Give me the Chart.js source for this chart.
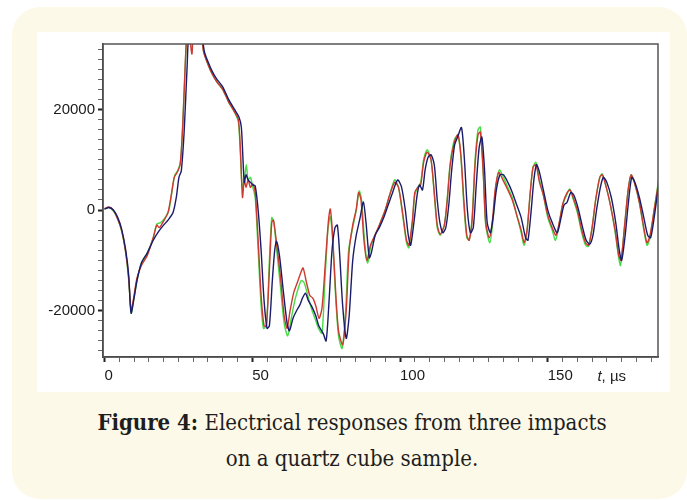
<!DOCTYPE html>
<html>
<head>
<meta charset="utf-8">
<script src="https://cdn.jsdelivr.net/npm/chart.js@4"></script>
<style>
  html, body { margin: 0; padding: 0; background: #fff; }
  body { width: 687px; height: 500px; position: relative; overflow: hidden; }
  .card { position: absolute; left: 12px; top: 7px; width: 675px; height: 492px; background: #fdf9e8; border-radius: 28px; }
  .plot { position: absolute; left: 37px; top: 32px; width: 633px; height: 360px; background: #fff; }
  .caption {
    position: absolute; left: 12px; width: 680px; top: 404px;
    text-align: center; font-family: 'DejaVu Serif Condensed', 'DejaVu Serif', serif;
    font-size: 22px; line-height: 36px; color: #1e1e1e;
  }
  .caption b { font-weight: bold; }
</style>
</head>
<body>
<div class="card"></div>
<div class="plot"><canvas id="chart" width="633" height="360"></canvas></div>
<div class="caption"><b>Figure 4:</b> Electrical responses from three impacts<br>on a quartz cube sample.</div>

<script>
// time axis in microseconds, values in raw ADC units
const majorX = [0, 50, 100, 150];
const majorY = [-20000, 0, 20000];

// small tick marks: every 5 us and every 2000 units
const xTicks = [];
for (let v = 0; v <= 185; v += 5) xTicks.push(v);
const yTicks = [];
for (let v = -28000; v <= 32000; v += 2000) yTicks.push(v);

// impact 1 (dark blue trace)
const t1 = [0, 1.5, 3, 4.5, 5.8, 7.2, 8.2, 9.0, 10.0, 11.0, 12.5, 14.5, 16.5, 18.4, 20, 21.5, 23.2, 24.3, 25.2, 26.0,
  27.0, 28.0, 28.6, 30.5, 32.5, 33.8, 35, 36.5, 38, 40, 42, 44, 45.5, 46.3, 46.8, 47.3, 47.9, 48.6, 49.4, 50.2,
  51.0, 52.0, 53.0, 54.0, 55.0, 55.8, 56.8, 57.6, 58.2, 59.2, 60.5, 61.8, 62.6, 63.8, 65, 66, 67, 68.0, 69, 70,
  71.5, 72.5, 74.0, 75.0, 76.0, 77.0, 78.0, 78.8, 79.6, 80.6, 81.8, 82.8, 84.0, 85.2, 86.5, 87.6, 88.5, 89.6, 90.3, 91.6,
  93, 94.5, 96.0, 97.5, 99.2, 100.5, 101.8, 102.8, 103.6, 104.8, 105.8, 106.6, 107.6, 108.5, 109.5, 110.5, 111.6, 112.6, 113.5, 114.5,
  115.5, 116.5, 117.5, 118.5, 119.5, 120.8, 121.8, 122.8, 123.8, 124.8, 125.8, 126.8, 127.7, 128.6, 129.5, 130.6, 131.6, 132.6, 133.8, 135.0,
  136.5, 138, 139.5, 141, 142.5, 143.3, 144.4, 145.3, 146.2, 147.2, 148.5, 150, 151.5, 153.2, 154.5, 155.5, 156.5, 157.8, 158.8, 160.2,
  161.8, 163, 164.2, 165.3, 166.5, 167.8, 168.8, 170.0, 171.5, 173, 174.2, 175.0, 176.2, 177.2, 178.4, 179.5, 181, 182.5, 183.8, 184.8,
  186, 187.5];
const v1 = [200, 500, 0, -1500, -3800, -8000, -13000, -20500, -17500, -14000, -10500, -8500, -6000, -4200, -3000, -2000, -500, 2500, 6500, 7800,
  16000, 29000, 35000, 37000, 36000, 31500, 29500, 27500, 26000, 24500, 22000, 20000, 18500, 16500, 11000, 5500, 7000, 6000, 5500, 5000,
  4800, 0, -8000, -18000, -23500, -23000, -14000, -8000, -6200, -9000, -16000, -22500, -24000, -21500, -20000, -19000, -17500, -16500, -18000, -19000,
  -21000, -23000, -24500, -26000, -18000, -8000, -3500, -3000, -9000, -19000, -25500, -21000, -10000, -5000, -1500, 1600, -2500, -9500, -8500, -5000,
  -3500, -1500, 1000, 3500, 6000, 4600, 0, -5000, -7000, -2000, 3000, 5000, 4000, 8000, 10500, 11000, 9000, 2000, -2500, -4500,
  -3500, 1000, 8000, 13000, 14500, 16400, 10000, 0, -4500, -3500, 5000, 12500, 14500, 8000, -2500, -4500, -1000, 4000, 7000, 7000,
  5500, 3500, 1000, -1500, -5500, -6000, 0, 6000, 9000, 7500, 4000, 0, -2500, -4500, -1500, 1000, 1500, 3500, 3000, 500,
  -3500, -6000, -6800, -5000, 0, 4500, 6500, 5500, 2500, -2500, -8000, -10000, -5000, 1000, 6500, 5500, 2500, -1500, -5000, -5500,
  -1500, 5000];

// impact 2 (red trace)
const t2 = [0, 1.5, 3, 4.5, 5.8, 7.2, 8.2, 9.0, 10, 11, 12.5, 14.5, 16.5, 17.7, 18.6, 20, 21.5, 22.6, 23.6, 24.6,
  25.6, 26.5, 27.4, 28.0, 28.8, 29.6, 30.3, 32.5, 33.5, 35, 36.5, 38, 40, 42, 44, 45.3, 46.0, 46.7, 47.3, 47.9,
  48.6, 49.4, 50.2, 51.0, 52.0, 53.0, 54.0, 54.8, 55.8, 56.6, 57.2, 58.2, 59.5, 60.8, 61.8, 62.8, 64, 65.2, 66.4, 67.2,
  68.2, 69.5, 70.5, 71.5, 72.6, 73.6, 74.8, 75.8, 76.4, 77.2, 78.2, 79.2, 80.6, 81.8, 82.8, 84, 85.2, 86.0, 86.8, 87.8,
  88.8, 90, 91.5, 93, 95, 96.5, 98.2, 99.5, 101, 102.2, 103.0, 104.2, 105.0, 106.0, 107.0, 108.0, 109.2, 110.5, 111.6, 112.6,
  113.6, 115.0, 116.0, 117.0, 118.4, 119.6, 120.6, 121.6, 122.6, 123.4, 124.4, 125.4, 126.4, 127.2, 128.2, 129.0, 130.2, 131.2, 132.2, 133.4,
  134.8, 136.5, 138, 139.5, 141, 142.0, 143.0, 144.0, 145.0, 146.0, 147.2, 148.5, 150, 151.5, 152.8, 154.2, 155.2, 156.6, 157.6, 158.6,
  160, 161.5, 162.8, 163.8, 165, 166.2, 167.6, 168.5, 169.8, 171.2, 172.8, 174.0, 174.8, 176.0, 177.2, 178.2, 179.3, 181, 182.5, 183.6,
  184.6, 186, 187.5];
const v2 = [300, 600, 0, -1800, -4000, -8500, -13500, -20000, -17000, -13500, -11000, -9000, -5500, -3000, -3500, -2200, -500, 3000, 6500, 7500,
  9000, 17000, 30000, 36000, 34500, 31000, 36000, 36000, 31500, 29000, 27000, 25500, 24000, 21500, 19500, 18000, 12000, 2500, 6000, 4500,
  6000, 4500, 5200, 3500, -6000, -17000, -23000, -23000, -12000, -2500, -2000, -6500, -13000, -21000, -23500, -20000, -16500, -14500, -12500, -11500,
  -14000, -17000, -17500, -19000, -21500, -19500, -10000, -2000, 200, -5000, -16000, -24000, -26800, -20000, -8000, -3000, 200, 3500, 2000, -6000,
  -10000, -7000, -5000, -3000, 0, 3000, 5500, 4500, -1000, -6000, -7000, -2000, 3500, 4500, 5000, 9500, 11500, 10000, 3500, -3000,
  -4800, -3000, 2000, 9000, 13500, 15000, 11000, 2000, -5000, -6000, -2000, 9000, 15000, 15500, 7000, -2500, -5500, -2500, 4000, 7500,
  6000, 4000, 2000, -1000, -4000, -6500, -4000, 3000, 8500, 9000, 5500, 3000, -1000, -3500, -5000, -1500, 1500, 3500, 4000, 2500,
  0, -4000, -6500, -7000, -3500, 2000, 6500, 7000, 4500, 1000, -4000, -9000, -10000, -3000, 4000, 7000, 5500, 1500, -3500, -6500,
  -5000, 0, 5500];

// impact 3 (green trace)
const t3 = [0, 1.5, 3, 4.5, 5.8, 7.2, 8.2, 9.1, 10, 11, 12.5, 14.5, 16.5, 17.7, 19, 20.5, 21.8, 22.8, 23.8, 24.8,
  25.8, 26.7, 27.6, 28.3, 30.5, 32.5, 33.6, 35, 36.5, 38, 40, 42, 44, 45.3, 46.0, 46.6, 47.3, 48.0, 48.6, 49.4,
  50.2, 51.0, 52.0, 53.0, 53.8, 54.8, 55.8, 56.6, 57.3, 58.2, 59.5, 60.8, 62.0, 63.2, 64.4, 65.6, 66.6, 67.6, 68.8, 70,
  71.2, 72.4, 73.6, 74.6, 75.6, 76.4, 77.2, 78.2, 79.2, 80.4, 81.6, 82.6, 84, 85.2, 86.2, 87.0, 88.0, 89.0, 90.2, 91.6,
  93, 95, 96.5, 98.2, 99.5, 101, 102.2, 103.0, 104.2, 105.0, 106.0, 107.0, 108.0, 109.2, 110.5, 111.6, 112.6, 113.6, 115.0, 116.0,
  117.0, 118.4, 119.6, 120.6, 121.6, 122.6, 123.4, 124.4, 125.4, 126.4, 127.2, 128.2, 129.0, 130.4, 131.4, 132.4, 133.6, 135.0, 136.5, 138,
  139.5, 141, 142.0, 143.0, 144.0, 145.0, 146.0, 147.2, 148.5, 150, 151.5, 152.6, 153.8, 155.0, 156.4, 157.4, 158.4, 160, 161.5, 162.8,
  163.8, 165, 166.2, 167.6, 168.4, 169.8, 171.2, 172.8, 174.0, 174.6, 175.8, 177.2, 178.2, 179.3, 181, 182.5, 183.6, 184.6, 186, 187.5];
const v3 = [200, 500, -200, -1800, -4200, -8500, -14000, -20300, -17500, -14000, -10500, -8500, -5500, -2800, -2500, -1500, 0, 3500, 7000, 7800,
  10000, 20000, 32000, 36000, 37000, 36000, 31500, 29000, 27000, 25500, 24000, 21500, 19500, 17500, 11000, 4500, 6000, 9000, 6000, 6500,
  4500, 2500, -8000, -19000, -23500, -23000, -10000, -1500, -2500, -7500, -15000, -22500, -25000, -21500, -18000, -15500, -14000, -14500, -17000, -19500,
  -21500, -23500, -24500, -14000, -4000, -1300, -6000, -17000, -25000, -27500, -20000, -8000, -3500, 0, 3800, 2000, -6000, -10500, -7000, -5000,
  -3000, 0, 3000, 6000, 4500, -1500, -6500, -7500, -2500, 3000, 4500, 5500, 10000, 12000, 10000, 3000, -3500, -5000, -3000, 2500,
  9500, 14000, 14800, 10500, 1000, -5500, -6000, -1500, 10000, 16000, 16500, 7000, -3000, -6500, -2500, 4500, 8000, 6500, 4500, 2500,
  -1000, -4500, -7000, -4000, 3000, 8500, 9500, 6000, 3000, -1500, -4000, -6000, -3000, 1000, 3000, 4200, 2500, -500, -4500, -7000,
  -7200, -3500, 2000, 6500, 7200, 4500, 1000, -4500, -9500, -11000, -4500, 4000, 7000, 5500, 1500, -4000, -7000, -5500, 0, 6000];

function toPoints(ts, vs) {
  return ts.map((t, i) => ({ x: t, y: vs[i] }));
}

const tickFont = { family: 'Liberation Sans', size: 15 };

// frame round the plot plus the "t, µs" unit label next to the last tick
const framePlugin = {
  id: 'frame',
  afterDraw(chart) {
    const { ctx, chartArea: a, scales } = chart;
    ctx.save();
    ctx.strokeStyle = '#555';
    ctx.lineWidth = 1.5;
    ctx.strokeRect(a.left, a.top, a.right - a.left, a.bottom - a.top);
    const x = scales.x.getPixelForValue(166.8);
    const y = a.bottom + 20;
    ctx.fillStyle = '#222';
    ctx.textBaseline = 'middle';
    ctx.font = 'italic 15px "Liberation Sans"';
    ctx.fillText('t', x, y);
    const w = ctx.measureText('t').width;
    ctx.font = '15px "Liberation Sans"';
    ctx.fillText(', µs', x + w, y);
    ctx.restore();
  }
};

const line = (label, ts, vs, color) => ({
  label, data: toPoints(ts, vs), borderColor: color, borderWidth: 1.4,
  pointRadius: 0, tension: 0.25, fill: false
});

const tickMarkColor = major => c => (c.tick && major.includes(c.tick.value)) ? '#222' : '#666';
const tickMarkWidth = major => c => (c.tick && major.includes(c.tick.value)) ? 2 : 1;

new Chart(document.getElementById('chart'), {
  type: 'line',
  data: {
    datasets: [
      line('Impact 1', t1, v1, '#1b1b6b'),
      line('Impact 2', t2, v2, '#cc3a30'),
      line('Impact 3', t3, v3, '#45dc45')
    ]
  },
  options: {
    responsive: false,
    animation: false,
    devicePixelRatio: 1,
    layout: { padding: { left: 0, right: 12, top: 9, bottom: 0 } },
    plugins: { legend: { display: false }, tooltip: { enabled: false } },
    scales: {
      x: {
        type: 'linear', min: -0.5, max: 187.3,
        afterBuildTicks: s => { s.ticks = xTicks.map(v => ({ value: v })); },
        afterFit: s => { s.height = 35; },
        border: { color: '#333', width: 1.5 },
        grid: {
          drawOnChartArea: false, tickLength: 5,
          tickColor: tickMarkColor(majorX), tickWidth: tickMarkWidth(majorX)
        },
        ticks: {
          autoSkip: false, align: 'start', maxRotation: 0, padding: 5,
          color: '#1a1a1a', font: tickFont,
          callback: v => (majorX.includes(v) ? String(v) : '')
        }
      },
      y: {
        min: -29200, max: 33000,
        afterBuildTicks: s => { s.ticks = yTicks.map(v => ({ value: v })); },
        afterFit: s => { s.width = 66; },
        border: { color: '#333', width: 1.5 },
        grid: {
          drawOnChartArea: false, tickLength: 5,
          tickColor: tickMarkColor(majorY), tickWidth: tickMarkWidth(majorY)
        },
        ticks: {
          autoSkip: false, padding: 3,
          color: '#1a1a1a', font: tickFont,
          callback: v => (majorY.includes(v) ? String(v) : '')
        }
      }
    }
  },
  plugins: [framePlugin]
});
</script>
</body>
</html>
